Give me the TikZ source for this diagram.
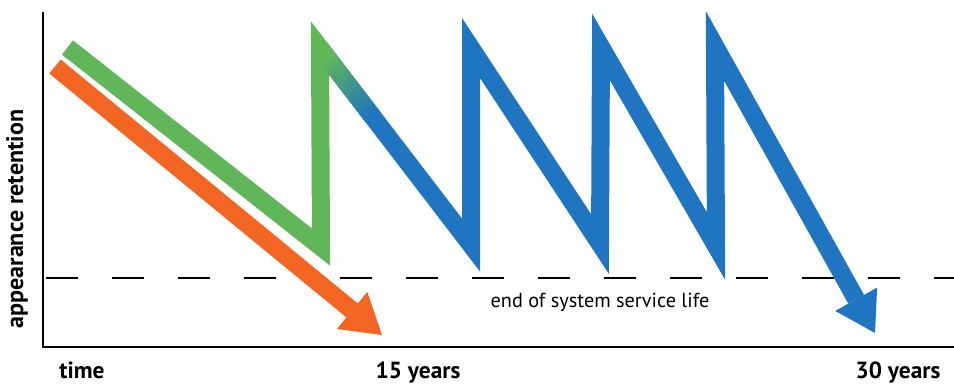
\documentclass[tikz,border=0pt]{standalone}
\usepackage{fontspec}
\setmainfont{PT Sans}
\usepackage{tikz}
\usetikzlibrary{arrows.meta,calc}
\definecolor{lifeorange}{RGB}{242,101,34}
\definecolor{lifegreen}{RGB}{96,182,88}
\definecolor{lifeblue}{RGB}{31,117,192}

\begin{document}
\begin{tikzpicture}[
  x=0.75pt, y=-0.75pt,
  axis/.style={draw=black, line width=1.6pt},
  limit/.style={draw=black, line width=1.5pt, dash pattern=on 24pt off 25.5pt},
  band/.style={line width=13.5pt, line join=miter},
  head/.style={-{Triangle[width=36pt,length=29pt,line width=0pt]}},
  label/.style={font=\bfseries\fontsize{17.5}{20}\selectfont, inner sep=0pt},
  rlabel/.style={font=\bfseries\fontsize{18}{20}\selectfont, inner sep=0pt, rotate=90},
  note/.style={font=\fontsize{15.2}{17}\selectfont, inner sep=0pt},
]
\useasboundingbox (0,0) rectangle (954,383);

% axes
\coordinate (top) at (43,12);
\coordinate (right) at (954,347);
\draw[axis] (top) |- (right);

% end of service life
\coordinate (d1) at (46,278);
\coordinate (d2) at (300,278);
\coordinate (d3) at (340,278);
\coordinate (d4) at (954,278);
\draw[limit] (d1) -- (d2);
\draw[limit] (d3) -- (d4);

% zigzag points
\coordinate (g0) at (67.5,47.5);
\coordinate (v1) at (321,247);
\coordinate (p1) at (320,48);
\coordinate (v2) at (471,245);
\coordinate (p2) at (471,48);
\coordinate (v3) at (600,244);
\coordinate (p3) at (601,47);
\coordinate (v4) at (716,246);
\coordinate (p4) at (715,46);
\coordinate (t2) at (875,333);

% orange: no maintenance
\coordinate (o0) at (55,66.5);
\coordinate (t1) at (382,335);
\draw[band, lifeorange, head] (o0) -- (t1);

% blue: recoating
\draw[band, lifeblue, head] (p1) -- (v2) -- (p2) -- (v3) -- (p3) -- (v4) -- (p4) -- (t2);

% green: first coat
\draw[band, lifegreen] (g0) -- (v1) -- (p1) -- ($(p1)!0.06!(v2)$);
\foreach \i in {0,...,29} {
  \pgfmathsetmacro\ta{0.05+0.01*\i}
  \pgfmathsetmacro\tb{\ta+0.012}
  \pgfmathtruncatemacro\mix{100-\i*100/29}
  \draw[band, lifegreen!\mix!lifeblue] ($(p1)!\ta!(v2)$) -- ($(p1)!\tb!(v2)$);
}

% texts
\node[note, anchor=base] (eol) at (600,307) {end of system service life};
\node[label, anchor=base] (time) at (82,378) {time};
\node[label, anchor=base] (y15) at (418,378) {15 years};
\node[label, anchor=base] (y30) at (898,378) {30 years};
\node[rlabel] (ret) at (17,219) {appearance retention};
\end{tikzpicture}
\end{document}
